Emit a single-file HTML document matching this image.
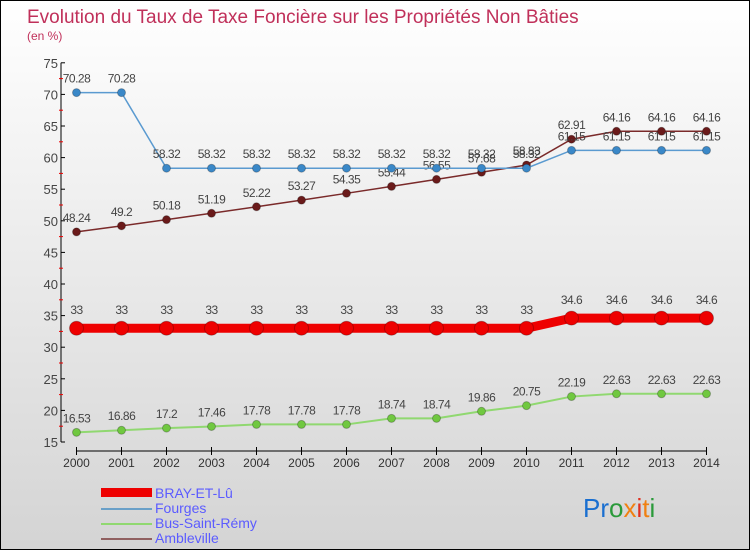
<!DOCTYPE html>
<html><head><meta charset="utf-8"><style>
body{margin:0}
#c{width:748px;height:548px;border:1px solid #000;background:linear-gradient(#fff,#d4d4d4);position:relative;overflow:hidden;font-family:"Liberation Sans",sans-serif}
</style></head><body>
<div id="c">
<svg id="s" width="748" height="548" style="position:absolute;left:0;top:0">
<text x="26" y="22" font-size="19" fill="#c0305a">Evolution du Taux de Taxe Foncière sur les Propriétés Non Bâties</text>
<text x="26" y="39" font-size="12" fill="#c0305a">(en %)</text>
<g id="ax"></g><g id="ser"></g>
<g>
<rect x="100" y="487" width="51" height="9" fill="#e00"/>
<text x="154" y="497" font-size="14" fill="#5b5bff">BRAY-ET-Lû</text>
<line x1="100" x2="151" y1="508" y2="508" stroke="#6aa0c8" stroke-width="2"/>
<text x="154" y="512" font-size="14" fill="#5b5bff">Fourges</text>
<line x1="100" x2="151" y1="523" y2="523" stroke="#90d870" stroke-width="2"/>
<text x="154" y="527" font-size="14" fill="#5b5bff">Bus-Saint-Rémy</text>
<line x1="100" x2="151" y1="538" y2="538" stroke="#906060" stroke-width="2"/>
<text x="154" y="542" font-size="14" fill="#5b5bff">Ambleville</text>
</g>
<g font-size="26" font-family="Liberation Sans,sans-serif">
<text x="582" y="516"><tspan fill="#1a6fd0">Pr</tspan><tspan fill="#2a9a3a">o</tspan><tspan fill="#f08010">x</tspan><tspan fill="#e03020">i</tspan><tspan fill="#f08010">t</tspan><tspan fill="#2a9a3a">i</tspan></text>
</g>
</svg>
</div>
<script>
const years=[2000,2001,2002,2003,2004,2005,2006,2007,2008,2009,2010,2011,2012,2013,2014];
const bray=[33,33,33,33,33,33,33,33,33,33,33,34.6,34.6,34.6,34.6];
const fourges=[70.28,70.28,58.32,58.32,58.32,58.32,58.32,58.32,58.32,58.32,58.32,61.15,61.15,61.15,61.15];
const bus=[16.53,16.86,17.2,17.46,17.78,17.78,17.78,18.74,18.74,19.86,20.75,22.19,22.63,22.63,22.63];
const amble=[48.24,49.2,50.18,51.19,52.22,53.27,54.35,55.44,56.55,57.68,58.83,62.91,64.16,64.16,64.16];
const yTicks=[15,20,25,30,35,40,45,50,55,60,65,70,75];
const NS="http://www.w3.org/2000/svg";
const X=i=>75.5+i*45, Y=v=>441-(v-15)*6.32;
function el(t,a,p){const e=document.createElementNS(NS,t);for(const k in a)e.setAttribute(k,a[k]);p.appendChild(e);return e;}
const ax=document.getElementById('ax');
let e=el('line',{x1:60,x2:60,y1:Y(75),y2:Y(15),stroke:'#000'},ax);


e=el('line',{x1:X(0),x2:X(14),y1:450,y2:450,stroke:'#000'},ax);


yTicks.forEach(v=>{
 el('line',{x1:60,x2:64,y1:Y(v),y2:Y(v),stroke:'#000'},ax);
 if(v<75) el('line',{x1:58,x2:62,y1:Y(v+2.5),y2:Y(v+2.5),stroke:'#e00'},ax);
 const t=el('text',{x:57,y:Y(v)+5,'font-size':13,fill:'#444','text-anchor':'end'},ax);t.textContent=v;
 
 
});
years.forEach((yr,i)=>{
 el('line',{x1:X(i),x2:X(i),y1:446,y2:454,stroke:'#000'},ax);
 const t=el('text',{x:X(i),y:466,'font-size':12,fill:'#333','text-anchor':'middle'},ax);t.textContent=yr;
 
 
});
const ser=document.getElementById('ser');
function series(d,name,col,lw,r,fill,dy){
 const g=el('g',{},ser);
 
 
 el('polyline',{points:d.map((v,i)=>X(i)+','+Y(v)).join(' '),fill:'none',stroke:col,'stroke-width':lw},g);
 d.forEach((v,i)=>{
  const c=el('circle',{cx:X(i),cy:Y(v),r:r,fill:fill,stroke:'rgba(0,0,0,0.25)'},g);
  
  
  const t=el('text',{x:X(i),y:Y(v)-dy,'font-size':12,fill:'#444','text-anchor':'middle','letter-spacing':'-0.5'},g);
  t.textContent=v;
 });
}
series(bus,'bus','#90d870',2,4,'#70c840',10);
series(amble,'ambleville','#7a2a2a',1.5,4,'#6a1a1a',10);
series(fourges,'fourges','#5a9ad0',1.5,4,'#3a88c8',10);
series(bray,'bray','#e00',9,7,'#e00',14);
</script>
</body></html>
